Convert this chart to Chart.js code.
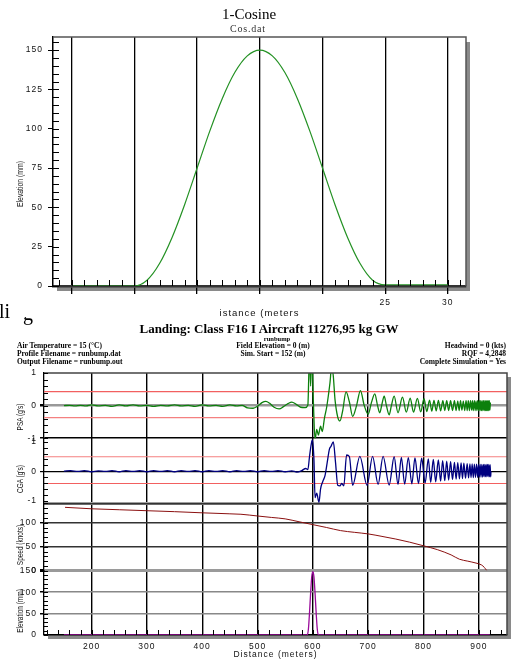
<!DOCTYPE html>
<html>
<head>
<meta charset="utf-8">
<script src="https://cdn.jsdelivr.net/npm/chart.js@4.4.1/dist/chart.umd.min.js"></script>
<style>
  body { margin: 0; background: #fff; }
  #page { position: relative; width: 527px; height: 659px; overflow: hidden; background: #fff; }
  .t { position: absolute; white-space: nowrap; line-height: 1; }
  .c { transform: translate(-50%, -50%); }
  .l { transform: translate(0, -50%); }
  .serif { font-family: 'Liberation Serif', serif; color: #000; }
  .hdr { font-family: 'Liberation Serif', serif; font-weight: bold; font-size: 7.5px; color: #000; }
  .vt { position: absolute; white-space: nowrap; line-height: 1; font-family: 'Liberation Sans', sans-serif;
        color: #111; transform: translate(-50%, -50%) rotate(-90deg) scaleX(0.72); }
  #cosWrap { position: absolute; left: 12px; top: 0; width: 515px; height: 317px; background: #fff; }
  #cosChart, #runChart { position: absolute; left: 0; top: 0; }
</style>
</head>
<body>
<div id="page">
  <canvas id="runChart" width="527" height="659"></canvas>

  <div class="t serif" style="left:-1px; top:301px; font-size:20px;">li</div>
  <div class="t serif" style="left:23px; top:303px; font-size:20px;">g</div>

  <div id="cosWrap">
    <canvas id="cosChart" width="515" height="322"></canvas>
  </div>

  <div class="t c serif" style="left:249px; top:14px; font-size:15px;">1-Cosine</div>
  <div class="t c serif" style="left:248px; top:29px; font-size:10px; letter-spacing:0.8px; color:#333;">Cos.dat</div>
  <div class="vt" style="left:20px; top:184px; font-size:9.5px;">Elevation (mm)</div>

  <div class="t c serif" style="left:269px; top:328px; font-size:13px; font-weight:bold;">Landing: Class F16 I Aircraft 11276,95 kg GW</div>
  <div class="t c hdr" style="left:277px; top:339px; font-size:6.5px;">runbump</div>
  <div class="t l hdr" style="left:17px; top:346px;">Air Temperature = 15 (°C)</div>
  <div class="t l hdr" style="left:17px; top:354px;">Profile Filename = runbump.dat</div>
  <div class="t l hdr" style="left:17px; top:361.5px;">Output Filename = runbump.out</div>
  <div class="t c hdr" style="left:273px; top:346px;">Field Elevation = 0 (m)</div>
  <div class="t c hdr" style="left:273px; top:354px;">Sim. Start = 152 (m)</div>
  <div class="t hdr" style="right:21px; top:346px; transform:translate(0,-50%);">Headwind = 0 (kts)</div>
  <div class="t hdr" style="right:21px; top:354px; transform:translate(0,-50%);">RQF = 4,2848</div>
  <div class="t hdr" style="right:21px; top:361.5px; transform:translate(0,-50%);">Complete Simulation = Yes</div>

  <div class="vt" style="left:20px; top:417px; font-size:9px;">PSA (g's)</div>
  <div class="vt" style="left:20px; top:479px; font-size:9px;">CGA (g's)</div>
  <div class="vt" style="left:20px; top:545px; font-size:9px;">Speed (knots)</div>
  <div class="vt" style="left:20px; top:611px; font-size:9px;">Elevation (mm)</div>
</div>

<script>
// ---- 1-Cosine profile (top chart)
const cosDist = [0, 5, 6, 7, 8, 9, 10, 11, 12, 13, 14, 15, 16, 17, 18, 19, 20, 21, 22, 23, 24, 25, 30];
const cosElev = [0, 0, 3.7, 14.3, 30.9, 51.7, 75, 98.3, 119.1, 135.7, 146.3, 150, 146.3, 135.7, 119.1, 98.3, 75, 51.7, 30.9, 14.3, 3.7, 0.8, 0.8];
const cosDistTicks = [0, 5, 10, 15, 20, 25, 30];
const cosDistLabels = ['', '', '', '', '', '25', '30'];
const cosElevTicks = [0, 25, 50, 75, 100, 125, 150];

// ---- landing simulation (bottom chart)
const distTicks = [200, 300, 400, 500, 600, 700, 800, 900];
const psaTicks = [-1, 0, 1];
const cgaTicks = [-1, 0, 1];
const speedTicks = [0, 50, 100];
const elevTicks = [0, 50, 100, 150];
const psaLimits = [0.43, -0.37];
const cgaLimits = [0.49, -0.42];

const psaTrace = [
  [150,0],[160,0.01],[170,-0.01],[180,0.01],[190,-0.01],[200,0.02],[212,-0.01],[225,0.01],[237,-0.02],[250,0.02],
  [262,-0.01],[275,0.02],[287,-0.01],[300,0.01],[312,-0.02],[325,0.01],[337,-0.01],[350,0.02],[362,-0.01],[375,0.01],
  [387,-0.02],[400,0.02],[412,-0.01],[425,0.01],[437,-0.02],[450,0.02],[462,-0.01],[472,0.01],[482,-0.07],[492,-0.08],
  [500,-0.02],[508,0.09],[515,0.13],[522,0.07],[530,-0.05],[539,-0.1],[547,-0.03],[555,0.06],[562,0.11],[570,0.04],
  [578,-0.05],[586,-0.06],[591,0.02],[594,1.6],[596,0.6],[598,1.6],[601,0.1],[604,-1.05],[607,-0.73],[610,-0.9],
  [614,-0.63],[617,-0.8],[621,-0.38],[625,-0.05],[628,0.3],[631,0.7],[634,1.2],[637,0.9],[640,0.2],[645,-0.35],
  [649,-0.47],[654,-0.15],[660,0.42],[666,0.12],[672,-0.33],[679,0],[686,0.46],[693,0],[700,-0.26],[706,0.1],
  [712,0.36],[717,0],[721,-0.22],[725,0.05],[729,0.29],[733,0],[738,-0.28],[742,0],[747,0.29],[754,-0.22],
  [762,0.26],[769,-0.2],[776,0.23],[782,-0.2],[789,0.22],[795,-0.19],[801,0.21],[806,-0.18],[811,0.17],[815,-0.17],
  [819,0.16],[823,-0.16],[827,0.16],[831,-0.16],[835,0.15],[838.5,-0.15],[842,0.15],[845.5,-0.15],[849,0.15],[852.5,-0.15],
  [856,0.15],[859,-0.15],[862,0.14],[864.5,-0.15],[867,0.15],[869.5,-0.14],[872,0.14],[874.5,-0.15],[877,0.15],[879,-0.15],
  [881,0.15],[883,-0.15],[885,0.15],[887,-0.14],[888.5,0.15],[890,-0.15],[892,0.15],[893.5,-0.15],[895,0.14],[896.5,-0.15],
  [898,0.15],[899.5,-0.15],[901,0.15],[902.3,-0.15],[903.5,0.15],[904.8,-0.15],[906,0.15],[907.3,-0.15],[908.5,0.15],[909.8,-0.15],
  [911,0.15],[912,-0.15],[913,0.15],[914,-0.15],[915,0.15],[916,-0.15],[917,0.15],[918,-0.15],[919,0.15],[920,-0.14],[921,0.1]
];

const cgaTrace = [
  [150,0],[162,0.02],[175,-0.01],[187,0.02],[200,-0.02],[212,0.01],[225,-0.01],[237,0.02],[250,-0.02],[262,0.02],
  [275,-0.01],[287,0.02],[300,-0.02],[312,0.02],[325,-0.01],[337,0.02],[350,-0.02],[362,0.02],[375,-0.01],[387,0.02],
  [400,-0.02],[412,0.02],[425,-0.01],[437,0.02],[450,-0.02],[462,0.02],[475,-0.01],[487,0.02],[500,-0.02],[512,0.02],
  [525,-0.01],[537,0.02],[550,-0.02],[562,0.01],[571,-0.03],[580,0.02],[587,0.09],[591,0.05],[594,0.5],[597,0.9],
  [599,1.06],[602,0.4],[604,-0.9],[607,-0.75],[611,-1.06],[614,-0.6],[618,-0.35],[622,-0.15],[626,0.3],[630,0.75],
  [633,0.85],[637,1.0],[641,0.3],[645,-0.48],[649,-0.5],[652,-0.42],[656,-0.5],[661,0.55],[666,0.5],[672,-0.48],
  [685,0.5],[698,-0.48],[708,0.5],[718,-0.45],[727,0.5],[738,-0.47],[747,0.49],[754,-0.45],[760,0.47],[766,-0.44],
  [772.6,0.46],[779,-0.43],[784.6,0.45],[791,-0.42],[796.7,0.44],[803,-0.4],[808.8,0.42],[813,-0.38],[817.8,0.4],[822,-0.36],
  [826.9,0.38],[831,-0.34],[834.7,0.36],[838.5,-0.32],[842,0.34],[845.5,-0.3],[849,0.32],[852.5,-0.28],[856,0.3],[859,-0.27],
  [862,0.29],[865,-0.26],[868,0.28],[870.5,-0.25],[873,0.27],[876,-0.24],[879,0.26],[881.5,-0.23],[884,0.25],[886,-0.22],
  [888,0.25],[890,-0.22],[892,0.24],[894,-0.21],[896,0.24],[898,-0.21],[899.5,0.23],[901,-0.2],[902.5,0.23],[904,-0.2],
  [905.5,0.23],[907,-0.2],[908.3,0.23],[909.6,-0.19],[910.9,0.23],[912.1,-0.19],[913.3,0.23],[914.5,-0.19],[915.7,0.23],[916.9,-0.19],
  [918.1,0.23],[919.3,-0.19],[920.5,0.22],[921.5,-0.19],[922,0]
];

const speedDist = [152, 200, 250, 300, 350, 400, 450, 470, 500, 525, 550, 575, 600, 625, 650, 675, 700, 725, 750, 775, 800, 825, 850, 865, 880, 895, 905, 910, 914];
const speedKts = [132, 129, 127, 125, 123, 120.6, 118.5, 117.6, 114, 111, 108, 102, 96, 90, 83.6, 80, 76.7, 71.5, 66, 59.5, 52, 44, 33, 24, 20, 16, 12, 7, 1];

const elevDist = [150, 590, 592, 594, 596, 598, 600, 602, 604, 606, 608, 610, 920];
const elevMm = [0, 0, 14, 52, 98, 136, 148, 136, 98, 52, 14, 0, 0];

const X_MIN = 114, X_MAX = 951;

Chart.defaults.font.family = "'Liberation Sans', Arial, sans-serif";
Chart.defaults.font.size = 8.5;
Chart.defaults.color = '#111';
Chart.defaults.animation = false;

const toXY = (xs, ys) => xs.map((x, i) => ({ x: x, y: ys[i] }));
const pairs = (arr) => arr.map(p => ({ x: p[0], y: p[1] }));
const hLine = (v) => [{ x: X_MIN, y: v }, { x: X_MAX, y: v }];
const fixedTicks = (vals) => (scale) => { scale.ticks = vals.map(v => ({ value: v })); };

// shadow, white plot area, frame and inward minor ticks
const framePlugin = {
  id: 'frame',
  beforeDraw(chart, args, opts) {
    const { ctx, chartArea: a } = chart;
    ctx.save();
    ctx.fillStyle = '#8a8a8a';
    ctx.fillRect(a.left + opts.shadowX, a.top + opts.shadowY, a.right - a.left, a.bottom - a.top);
    ctx.fillStyle = '#fff';
    ctx.fillRect(a.left, a.top, a.right - a.left, a.bottom - a.top);
    ctx.restore();
    ctx.letterSpacing = '1px';
  },
  afterDraw(chart, args, opts) {
    const { ctx, chartArea: a } = chart;
    ctx.save();
    ctx.strokeStyle = opts.frameColor;
    ctx.lineWidth = 1.5;
    ctx.beginPath();
    ctx.moveTo(a.left, a.top);
    ctx.lineTo(a.right, a.top);
    ctx.lineTo(a.right, a.bottom);
    ctx.stroke();
    ctx.strokeStyle = '#000';
    ctx.lineWidth = 1;
    opts.minor.forEach(m => {
      const s = chart.scales[m.id];
      ctx.beginPath();
      for (let i = Math.ceil(s.min / m.step - 1e-9); i * m.step <= s.max + 1e-9; i++) {
        const p = Math.round(s.getPixelForValue(i * m.step)) + 0.5;
        if (s.isHorizontal()) {
          ctx.moveTo(p, a.bottom);
          ctx.lineTo(p, a.bottom - m.len);
        } else {
          ctx.moveTo(a.left, p);
          ctx.lineTo(a.left + m.len, p);
        }
      }
      ctx.stroke();
    });
    ctx.restore();
  }
};

// ---- top chart
new Chart(document.getElementById('cosChart'), {
  type: 'line',
  data: {
    datasets: [{
      data: toXY(cosDist, cosElev),
      borderColor: '#239123',
      borderWidth: 1.2,
      pointRadius: 0,
      cubicInterpolationMode: 'monotone'
    }]
  },
  options: {
    responsive: false,
    layout: { padding: { top: 37, right: 61, bottom: 0, left: 0 } },
    plugins: {
      legend: { display: false },
      tooltip: { enabled: false },
      frame: {
        shadowX: 4, shadowY: 5, frameColor: '#555',
        minor: [{ id: 'x', step: 1, len: 6 }, { id: 'y', step: 5, len: 6 }]
      }
    },
    scales: {
      x: {
        type: 'linear', min: -1.5, max: 31.45, z: 1,
        afterBuildTicks: fixedTicks(cosDistTicks),
        afterFit: (s) => { s.height = 36; },
        ticks: {
          autoSkip: false, maxRotation: 0, padding: 4,
          callback: (v) => cosDistLabels[cosDistTicks.indexOf(v)]
        },
        grid: { color: '#000', lineWidth: 1.3, tickLength: 8, tickColor: '#000' },
        border: { color: '#333', width: 2.5 },
        title: {
          display: true, text: 'istance (meters', color: '#111',
          font: { size: 9.5, lineHeight: 1 }, padding: { top: 0, bottom: 3.5 }
        }
      },
      y: {
        type: 'linear', min: 0, max: 158.3,
        afterBuildTicks: fixedTicks(cosElevTicks),
        afterFit: (s) => { s.width = 41; },
        ticks: { autoSkip: false, padding: 5 },
        grid: { drawOnChartArea: false, tickLength: 5, tickColor: '#000' },
        border: { color: '#000', width: 1.5 }
      }
    }
  },
  plugins: [framePlugin]
});

// ---- bottom chart: four stacked panels on one distance axis
function panelScale(cfg) {
  const style = (v) => cfg.lines[String(v)];
  return {
    type: 'linear', position: 'left', stack: 'runway', stackWeight: cfg.stackWeight, weight: cfg.order,
    min: cfg.min, max: cfg.max,
    afterBuildTicks: fixedTicks(cfg.ticks),
    afterFit: (s) => { s.width = 44; },
    ticks: {
      autoSkip: false, padding: 3,
      callback: (v) => cfg.labels.includes(v) ? String(v) : ''
    },
    grid: {
      color: (c) => style(c.tick.value) ? style(c.tick.value)[0] : 'rgba(0,0,0,0)',
      lineWidth: (c) => style(c.tick.value) ? style(c.tick.value)[1] : 0,
      tickLength: 4,
      tickColor: (c) => cfg.labels.includes(c.tick.value) ? '#000' : 'rgba(0,0,0,0)'
    },
    border: { color: '#000', width: 1.3 }
  };
}

const lineSet = (data, axis, color, width) => ({
  data: data, yAxisID: axis, borderColor: color, borderWidth: width,
  pointRadius: 0, cubicInterpolationMode: 'monotone'
});

new Chart(document.getElementById('runChart'), {
  type: 'line',
  data: {
    datasets: [
      lineSet(pairs(psaTrace), 'yPsa', '#0c800c', 1.3),
      lineSet(pairs(cgaTrace), 'yCga', '#000080', 1.3),
      lineSet(toXY(speedDist, speedKts), 'ySpd', '#8b1010', 1),
      lineSet(toXY(elevDist, elevMm), 'yElv', '#9a0a9a', 1.3),
      lineSet(hLine(psaLimits[0]), 'yPsa', '#f26060', 1.2),
      lineSet(hLine(psaLimits[1]), 'yPsa', '#f48080', 1.2),
      lineSet(hLine(cgaLimits[0]), 'yCga', '#f48080', 1.2),
      lineSet(hLine(cgaLimits[1]), 'yCga', '#f26060', 1.2)
    ]
  },
  options: {
    responsive: false,
    layout: { padding: { top: 373, right: 20, bottom: 0, left: 0 } },
    plugins: {
      legend: { display: false },
      tooltip: { enabled: false },
      frame: {
        shadowX: 4, shadowY: 4, frameColor: '#444',
        minor: [
          { id: 'x', step: 20, len: 5 },
          { id: 'yPsa', step: 0.2, len: 4 },
          { id: 'yCga', step: 0.2, len: 4 },
          { id: 'ySpd', step: 10, len: 4 },
          { id: 'yElv', step: 10, len: 4 }
        ]
      }
    },
    scales: {
      x: {
        type: 'linear', min: X_MIN, max: X_MAX,
        afterBuildTicks: fixedTicks(distTicks),
        afterFit: (s) => { s.height = 24; },
        ticks: { autoSkip: false, maxRotation: 0, padding: 7 },
        grid: { color: '#000', lineWidth: 1.4, drawTicks: false },
        border: { color: '#000', width: 1.5 },
        title: {
          display: true, text: 'Distance (meters)', color: '#111',
          font: { size: 8.5, lineHeight: 1 }, padding: { top: 0, bottom: 0.5 }
        }
      },
      yPsa: panelScale({
        min: -1, max: 1, stackWeight: 65, order: 4,
        ticks: psaTicks, labels: psaTicks,
        lines: { '-1': ['#000', 1.5], '0': ['#999', 2.5] }
      }),
      yCga: panelScale({
        min: -1.1, max: 1.12, stackWeight: 65, order: 3,
        ticks: [-1.1].concat(cgaTicks), labels: cgaTicks,
        lines: { '-1.1': ['#a0a0a0', 3], '0': ['#000', 1.2] }
      }),
      ySpd: panelScale({
        min: 0, max: 140, stackWeight: 67, order: 2,
        ticks: speedTicks.concat([140]), labels: speedTicks,
        lines: { '0': ['#000', 1.5], '50': ['#333', 1.4], '100': ['#333', 1.4], '140': ['#333', 1.4] }
      }),
      yElv: panelScale({
        min: 0, max: 150, stackWeight: 64, order: 1,
        ticks: elevTicks, labels: elevTicks,
        lines: { '150': ['#9a9a9a', 3], '100': ['#888', 1.5], '50': ['#888', 1.5] }
      })
    }
  },
  plugins: [framePlugin]
});
</script>
</body>
</html>
